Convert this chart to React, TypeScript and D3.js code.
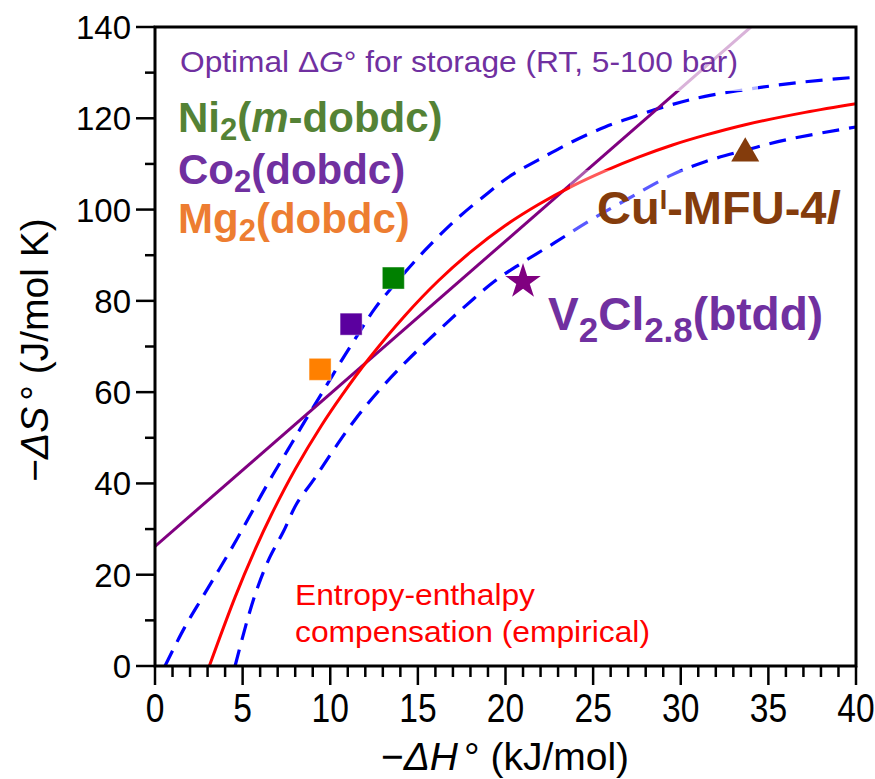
import React from 'react';
import * as d3 from 'd3';

const W = 875;
const H = 779;
const PX0 = 155, PX1 = 856, PY0 = 666, PY1 = 27;

const xMajorTicks = [0, 5, 10, 15, 20, 25, 30, 35, 40];
const xMinorTicks = d3.range(0, 41, 1);
const yMajorTicks = [0, 20, 40, 60, 80, 100, 120, 140];
const yMinorTicks = d3.range(0, 141, 10);

// Optimal ΔG° line (RT): dark segment then faded segment
const optimalDark: [number, number][] = [[0, 26.2], [29.9, 126.2]];
const optimalLight: [number, number][] = [[29.9, 126.2], [34.0, 140]];

// Entropy-enthalpy compensation (empirical)
const redCurve: [number, number][] = [
  [3.1, 0], [4.57, 15.1], [5.71, 25.5], [6.66, 33.3], [8.0, 43.1], [9.5, 52.7],
  [10.66, 59.3], [12.18, 67.2], [14.27, 76.8], [16.17, 84.4], [18.07, 90.9],
  [19.95, 96.4], [21.88, 101.1], [23.78, 105.1], [25.68, 108.5], [27.59, 111.5],
  [29.49, 114.1], [31.39, 116.3], [33.68, 118.6], [37.1, 121.3], [40, 123.2],
];

// Upper / lower dashed bands
const upperBand: [number, number][] = [
  [0.57, 0], [1.67, 8.3], [2.7, 15.0], [3.65, 21.1], [4.66, 27.7], [5.61, 34.3],
  [6.56, 40.8], [7.57, 47.3], [8.56, 53.7], [9.51, 59.7], [10.56, 66.4],
  [11.61, 72.8], [12.56, 78.4], [13.98, 85.0], [15.41, 91.1], [17.12, 97.6],
  [19.02, 103.7], [20.36, 107.6], [21.88, 110.9], [23.78, 114.8], [25.68, 118.1],
  [27.59, 120.7], [29.49, 123.0], [31.39, 124.8], [34.25, 126.6], [37.1, 128.0], [40, 129.0],
];
const lowerBand: [number, number][] = [
  [4.57, 0], [5.33, 10.9], [5.9, 17.7], [6.56, 23.9], [7.32, 29.4], [8.09, 35.6],
  [9.09, 41.0], [10.18, 47.3], [11.38, 53.8], [12.79, 60.4], [14.36, 66.8],
  [15.98, 72.8], [17.69, 78.8], [19.41, 84.4], [20.93, 88.3], [22.83, 92.8],
  [24.73, 97.4], [26.64, 101.6], [29.49, 107.6], [31.39, 110.5], [33.68, 113.0],
  [36.15, 115.4], [40, 118.1],
];

const squares = [
  { name: 'Ni2(m-dobdc)', x: 13.6, y: 85.0, color: '#008000' },
  { name: 'Co2(dobdc)', x: 11.19, y: 74.9, color: '#5B009F' },
  { name: 'Mg2(dobdc)', x: 9.42, y: 65.0, color: '#FF8000' },
];
const starPoint = { name: 'V2Cl2.8(btdd)', x: 21.0, y: 84.2, color: '#800080' };
const trianglePoint = { name: 'CuI-MFU-4l', x: 33.68, y: 112.3, color: '#843C0C' };

const FONT = '"Liberation Sans", Arial, Helvetica, sans-serif';

export default function App() {
  const x = d3.scaleLinear().domain([0, 40]).range([PX0, PX1]);
  const y = d3.scaleLinear().domain([0, 140]).range([PY0, PY1]);
  const line = d3.line<[number, number]>().x(d => x(d[0])).y(d => y(d[1]));
  const curve = d3.line<[number, number]>().x(d => x(d[0])).y(d => y(d[1])).curve(d3.curveCatmullRom.alpha(0.5));
  const sq = d3.symbol().type(d3.symbolSquare).size(484)();
  const star = d3.symbol().type(d3.symbolStar).size(390)();
  const tri = d3.symbol().type(d3.symbolTriangle).size(340)();

  return (
    <svg width={W} height={H} style={{ position: 'absolute', left: 0, top: 0, background: '#fff' }} fontFamily={FONT}>
      <defs>
        <clipPath id="plotClip">
          <rect x={PX0} y={PY1} width={PX1 - PX0} height={PY0 - PY1} />
        </clipPath>
      </defs>
      <rect x={0} y={0} width={W} height={H} fill="#fff" />

      <g clipPath="url(#plotClip)" fill="none">
        <path d={curve(upperBand) || ''} stroke="#0000FF" strokeWidth={3.2} strokeDasharray="17,10" />
        <path d={curve(lowerBand) || ''} stroke="#0000FF" strokeWidth={3.2} strokeDasharray="17,10" />
        <path d={line(optimalDark) || ''} stroke="#800080" strokeWidth={3} />
        <path d={line(optimalLight) || ''} stroke="#800080" strokeWidth={3} />
        <path d={curve(redCurve) || ''} stroke="#FF0000" strokeWidth={3} />
      </g>

      {/* translucent label backgrounds */}
      <rect x={170} y={PY1 + 1} width={588} height={63} fill="#fff" opacity={0.7} />
      <rect x={570} y={170} width={284} height={68} fill="#fff" opacity={0.35} />

      {/* markers */}
      {squares.map(s => (
        <path key={s.name} d={sq} transform={`translate(${x(s.x)},${y(s.y)})`} fill={s.color} stroke="#fff" strokeOpacity={0.4} strokeWidth={1} />
      ))}
      <path d={star} transform={`translate(${x(starPoint.x)},${y(starPoint.y)})`} fill={starPoint.color} />
      <path d={tri} transform={`translate(${x(trianglePoint.x)},${y(trianglePoint.y)})`} fill={trianglePoint.color} />

      {/* frame */}
      <rect x={PX0} y={PY1} width={PX1 - PX0} height={PY0 - PY1} fill="none" stroke="#000" strokeWidth={3} />

      {/* x ticks */}
      {xMinorTicks.map(t => (
        <line key={'xm' + t} x1={x(t)} x2={x(t)} y1={PY0} y2={PY0 + (t % 5 === 0 ? 19 : 11)} stroke="#000" strokeWidth={2.5} />
      ))}
      {xMajorTicks.map(t => (
        <text key={'xl' + t} transform={`translate(${x(t)},722) scale(0.84,1)`} textAnchor="middle" fontSize={40} fill="#000">{t}</text>
      ))}
      {/* y ticks */}
      {yMinorTicks.map(t => (
        <line key={'ym' + t} x1={PX0} x2={PX0 - (t % 20 === 0 ? 19 : 10)} y1={y(t)} y2={y(t)} stroke="#000" strokeWidth={2.5} />
      ))}
      {yMajorTicks.map(t => (
        <text key={'yl' + t} x={131} y={y(t) + 12} textAnchor="end" fontSize={33} fill="#000">{t}</text>
      ))}

      {/* axis titles */}
      <text x={505} y={770} textAnchor="middle" fontSize={39} fill="#000">
        −<tspan fontStyle="italic">ΔH</tspan><tspan dx={6}>°</tspan> (kJ/mol)
      </text>
      <text transform="translate(48,350) rotate(-90)" textAnchor="middle" fontSize={39} fill="#000">
        −<tspan fontStyle="italic">ΔS</tspan><tspan dx={6}>°</tspan> (J/mol K)
      </text>

      {/* annotations */}
      <text x={180} y={72} fontSize={29} fill="#7030A0" textLength={558} lengthAdjust="spacingAndGlyphs">
        Optimal Δ<tspan fontStyle="italic">G</tspan>° for storage (RT, 5-100 bar)
      </text>
      <text x={178} y={132} fontSize={42} fontWeight="bold" fill="#548235">
        Ni<tspan fontSize={31} dy={8}>2</tspan><tspan dy={-8}>(</tspan><tspan fontStyle="italic">m</tspan>-dobdc)
      </text>
      <text x={178} y={184} fontSize={42} fontWeight="bold" fill="#7030A0">
        Co<tspan fontSize={31} dy={8}>2</tspan><tspan dy={-8}>(dobdc)</tspan>
      </text>
      <text x={178} y={233} fontSize={42} fontWeight="bold" fill="#ED7D31">
        Mg<tspan fontSize={31} dy={8}>2</tspan><tspan dy={-8}>(dobdc)</tspan>
      </text>
      <text x={597} y={224} fontSize={47} fontWeight="bold" fill="#843C0C">
        Cu<tspan fontSize={27} dy={-15}>I</tspan><tspan dy={15}>-MFU-4</tspan><tspan fontStyle="italic">l</tspan>
      </text>
      <text x={548} y={330} fontSize={46} fontWeight="bold" fill="#7030A0">
        V<tspan fontSize={35} dy={12}>2</tspan><tspan dy={-12}>Cl</tspan><tspan fontSize={35} dy={12}>2.8</tspan><tspan dy={-12}>(btdd)</tspan>
      </text>
      <text x={295} y={605} fontSize={30} fill="#FF0000" textLength={240} lengthAdjust="spacingAndGlyphs">Entropy-enthalpy</text>
      <text x={295} y={642} fontSize={30} fill="#FF0000" textLength={355} lengthAdjust="spacingAndGlyphs">compensation (empirical)</text>
    </svg>
  );
}
